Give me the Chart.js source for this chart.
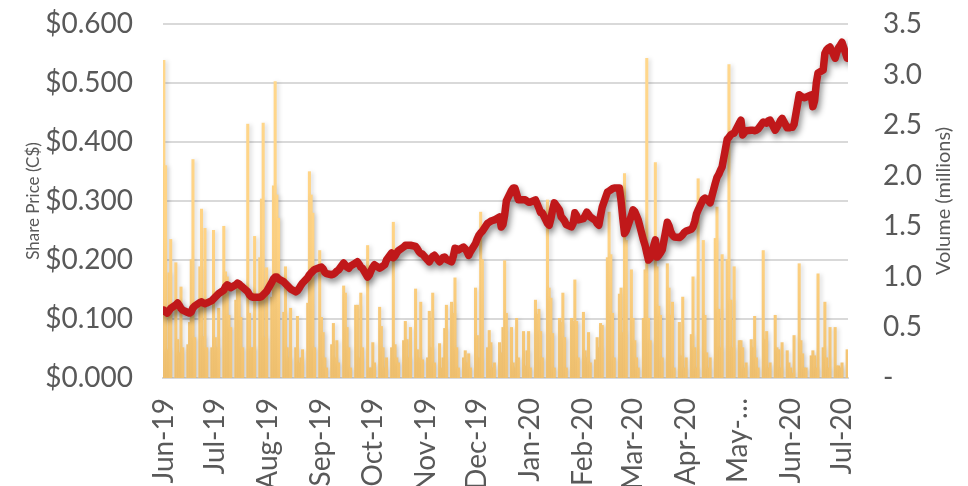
<!DOCTYPE html>
<html>
<head>
<meta charset="utf-8">
<script src="https://cdn.jsdelivr.net/npm/chart.js@4/dist/chart.umd.min.js"></script>
<style>
html,body{margin:0;padding:0;background:#fff;overflow:hidden}
#wrap{width:968px;height:486px;position:relative}
</style>
</head>
<body>
<div id="wrap"><canvas id="c"></canvas></div>
<script>
// ---- Data ----
const firstTradingDay = [2019, 5, 3];   // 3 Jun 2019 (month is 0-based)
const lastTradingDay  = [2020, 6, 6];   // 6 Jul 2020
const monthLabels = ['Jun-19','Jul-19','Aug-19','Sep-19','Oct-19','Nov-19','Dec-19',
                     'Jan-20','Feb-20','Mar-20','Apr-20','May-…','Jun-20','Jul-20'];
const priceTicks  = [0, 0.1, 0.2, 0.3, 0.4, 0.5, 0.6];
const volumeTicks = [0, 0.5, 1.0, 1.5, 2.0, 2.5, 3.0, 3.5];

// Share price (C$), one value per trading day
const sharePrice = [
  // Jun-19
  0.115,0.112,0.110,0.114,0.118,0.124,0.127,0.123,0.118,0.115,0.111,0.110,0.112,0.119,0.122,0.128,0.129,0.127,0.126,0.127,
  // Jul-19
  0.131,0.134,0.137,0.140,0.143,0.149,0.155,0.158,0.156,0.153,0.158,0.161,0.159,0.156,0.154,0.146,0.141,0.138,0.137,0.137,0.137,0.138,0.141,
  // Aug-19
  0.144,0.147,0.162,0.168,0.171,0.171,0.168,0.163,0.160,0.157,0.154,0.151,0.146,0.148,0.152,0.157,0.161,0.170,0.175,0.178,0.181,0.184,
  // Sep-19
  0.187,0.188,0.185,0.179,0.177,0.175,0.176,0.178,0.181,0.183,0.195,0.191,0.188,0.186,0.190,0.195,0.197,0.193,0.188,0.186,0.171,
  // Oct-19
  0.175,0.182,0.188,0.192,0.186,0.188,0.190,0.192,0.200,0.212,0.204,0.207,0.212,0.216,0.222,0.225,0.225,0.225,0.225,0.223,0.219,0.214,0.211,
  // Nov-19
  0.210,0.200,0.197,0.202,0.206,0.208,0.197,0.200,0.204,0.205,0.201,0.197,0.206,0.220,0.219,0.217,0.222,0.219,0.214,0.208,0.214,
  // Dec-19
  0.228,0.236,0.242,0.246,0.249,0.262,0.264,0.266,0.267,0.268,0.273,0.256,0.260,0.276,0.300,0.318,0.322,0.322,0.312,0.302,0.302,0.302,
  // Jan-20
  0.300,0.298,0.298,0.302,0.295,0.288,0.280,0.280,0.262,0.259,0.270,0.285,0.297,0.285,0.273,0.270,0.266,0.260,0.256,0.262,0.280,0.275,0.268,
  // Feb-20
  0.270,0.275,0.281,0.277,0.273,0.267,0.262,0.259,0.275,0.290,0.315,0.317,0.319,0.321,0.322,0.322,0.300,0.270,0.245,0.250,
  // Mar-20
  0.275,0.285,0.282,0.275,0.268,0.234,0.225,0.212,0.200,0.203,0.234,0.205,0.208,0.212,0.217,0.264,0.258,0.248,0.242,0.239,0.238,0.240,
  // Apr-20
  0.243,0.247,0.249,0.252,0.256,0.265,0.278,0.285,0.303,0.305,0.303,0.300,0.297,0.330,0.340,0.345,0.352,0.358,0.405,0.408,0.412,0.414,
  // May-20
  0.415,0.432,0.437,0.412,0.416,0.419,0.420,0.420,0.419,0.420,0.422,0.434,0.433,0.432,0.436,0.437,0.420,0.425,0.430,0.436,0.440,
  // Jun-20
  0.424,0.424,0.425,0.425,0.430,0.480,0.478,0.476,0.475,0.476,0.480,0.460,0.470,0.500,0.517,0.522,0.550,0.556,0.559,0.561,0.542,0.552,
  // Jul-20
  0.560,0.564,0.569,0.542
];

// Volume (millions of shares), one value per trading day
const volumeMillions = [
  // Jun-19
  3.14,2.10,0.28,1.04,1.37,1.14,0.38,0.25,0.90,0.30,0.33,0.55,1.17,2.16,0.40,1.10,1.67,0.41,1.48,0.30,
  // Jul-19
  0.30,1.46,0.40,0.30,0.69,1.50,1.05,1.00,0.62,0.50,0.77,0.94,0.94,0.60,0.30,2.51,0.64,0.30,0.30,1.40,1.19,1.77,2.52,
  // Aug-19
  0.40,1.09,0.80,1.90,2.93,1.81,1.58,0.65,1.10,0.30,0.20,0.69,0.30,0.61,0.15,0.20,0.28,0.74,2.04,1.81,1.63,0.30,
  // Sep-19
  1.26,0.60,0.45,0.20,0.10,0.33,0.54,0.20,0.37,0.15,0.91,0.84,0.50,0.30,0.10,0.72,0.72,0.20,0.84,0.30,1.31,
  // Oct-19
  0.10,0.10,0.35,0.15,0.70,0.51,0.30,0.10,0.20,0.30,1.54,0.33,0.20,0.15,0.37,0.56,0.38,0.20,0.50,0.88,0.28,0.20,0.75,
  // Nov-19
  0.18,0.20,0.66,0.30,0.84,0.15,0.34,0.10,0.20,0.49,0.72,0.75,0.64,0.99,0.30,0.10,0.20,0.27,0.15,0.24,0.10,
  // Dec-19
  0.89,0.42,0.20,1.64,1.17,0.30,0.47,0.35,0.10,0.15,0.35,0.25,0.50,1.16,0.64,0.50,0.15,0.10,0.59,0.20,0.46,0.12,
  // Jan-20
  0.27,0.46,0.10,0.77,0.63,0.68,0.46,0.20,1.76,0.89,0.79,0.44,0.10,0.59,0.55,0.84,0.40,0.10,0.59,0.56,0.97,0.56,0.20,
  // Feb-20
  0.65,0.27,0.20,0.45,0.15,0.18,0.40,0.30,0.54,0.52,1.19,1.64,1.22,0.64,0.20,0.83,0.89,0.45,2.02,1.36,
  // Mar-20
  1.07,0.59,0.37,0.20,0.10,0.59,1.07,3.16,0.59,0.37,2.13,1.10,0.71,0.62,0.20,1.13,0.89,0.62,0.75,0.10,0.55,0.22,
  // Apr-20
  0.80,0.10,0.20,0.43,1.00,0.30,0.10,1.97,1.36,0.62,0.25,0.10,0.20,1.38,1.69,0.68,0.30,1.22,1.17,3.10,0.77,0.30,
  // May-20
  1.10,0.37,0.37,0.30,0.10,0.15,0.38,0.30,0.61,0.20,0.10,1.26,0.38,0.46,0.10,0.15,0.62,0.30,0.28,0.10,0.35,
  // Jun-20
  0.27,0.15,0.10,0.05,0.42,1.13,0.37,0.24,0.10,0.10,0.22,0.27,0.22,0.10,1.03,0.30,0.75,0.20,0.10,0.50,0.50,0.12,
  // Jul-20
  0.12,0.10,0.15,0.28
];

// ---- Date axis helpers (days since first trading day) ----
const DAY = 86400000;
const t0 = Date.UTC(...firstTradingDay);
const t1 = Date.UTC(...lastTradingDay);
const tradingDayIndex = [];
for (let t = t0; t <= t1; t += DAY) {
  const wd = new Date(t).getUTCDay();
  if (wd !== 0 && wd !== 6) tradingDayIndex.push(Math.round((t - t0) / DAY));
}
// Excel date axis: labels every month, counted from the first date (the 3rd)
const monthTickValues = monthLabels.map((_, i) =>
  Math.round((Date.UTC(firstTradingDay[0], firstTradingDay[1] + i, firstTradingDay[2]) - t0) / DAY));
const lastIndex = Math.round((t1 - t0) / DAY);

const priceData  = sharePrice.map((v, i) => ({ x: tradingDayIndex[i], y: v }));
const volumeData = volumeMillions.map((v, i) => ({ x: tradingDayIndex[i], y: v }));

// ---- Styling ----
const FONT = 'Lato, "Open Sans", "DejaVu Sans", sans-serif';
const GREY = '#595959';
const GRID = '#d9d9d9';

const shadowPlugin = {
  id: 'dsShadow',
  beforeDatasetDraw(chart, args) {
    const ctx = chart.ctx;
    ctx.save();
    const s = chart.data.datasets[args.index].shadow;
    if (s) {
      ctx.shadowColor = s.color;
      ctx.shadowBlur = s.blur;
      ctx.shadowOffsetX = s.x;
      ctx.shadowOffsetY = s.y;
    }
  },
  afterDatasetDraw(chart) { chart.ctx.restore(); }
};

const rightTitlePlugin = {
  id: 'rightTitle',
  afterDraw(chart) {
    const sc = chart.scales.y1;
    const ctx = chart.ctx;
    ctx.save();
    ctx.translate(sc.right - 24, (sc.top + sc.bottom) / 2);
    ctx.rotate(-Math.PI / 2);
    ctx.font = '20px ' + FONT;
    ctx.fillStyle = GREY;
    ctx.textAlign = 'center';
    ctx.textBaseline = 'middle';
    ctx.fillText('Volume (millions)', 0, 0);
    ctx.restore();
  }
};

let barGradient = null;
function barColor(c) {
  const a = c.chart.chartArea;
  if (!a) return '#FFD385';
  if (!barGradient) {
    barGradient = c.chart.ctx.createLinearGradient(0, a.top, 0, a.bottom);
    barGradient.addColorStop(0, '#FFD88E');
    barGradient.addColorStop(0.6, '#FFD384');
    barGradient.addColorStop(1, '#F2C270');
  }
  return barGradient;
}

function fixVertical(width) {
  return s => { s.width = width; s.paddingTop = 0; s.paddingBottom = 0; };
}

new Chart(document.getElementById('c'), {
  type: 'bar',
  data: {
    datasets: [
      {
        type: 'line',
        label: 'Share Price (C$)',
        data: priceData,
        yAxisID: 'y',
        borderColor: '#C0181A',
        borderWidth: 7.5,
        borderJoinStyle: 'round',
        borderCapStyle: 'round',
        pointRadius: 0,
        tension: 0,
        order: 0,
        shadow: { color: 'rgba(0,0,0,0.45)', blur: 6, x: 2, y: 4 }
      },
      {
        type: 'bar',
        label: 'Volume (millions)',
        data: volumeData,
        yAxisID: 'y1',
        backgroundColor: barColor,
        borderWidth: 0,
        barThickness: 2.4,
        order: 1,
        shadow: { color: 'rgba(0,0,0,0.16)', blur: 4, x: 2, y: 1 }
      }
    ]
  },
  options: {
    responsive: true,
    maintainAspectRatio: false,
    animation: false,
    layout: { padding: { top: 24, left: 0, right: 0, bottom: 0 } },
    plugins: { legend: { display: false }, tooltip: { enabled: false } },
    scales: {
      x: {
        type: 'linear',
        min: -0.5,
        max: lastIndex + 0.5,
        offset: false,
        grid: { display: false, drawTicks: false, offset: false },
        border: { display: true, color: GRID, width: 2 },
        ticks: {
          autoSkip: false,
          minRotation: 90,
          maxRotation: 90,
          padding: 20,
          color: GREY,
          font: { family: FONT, size: 28 },
          callback: (v, i) => monthLabels[i]
        },
        afterBuildTicks: s => { s.ticks = monthTickValues.map(v => ({ value: v })); },
        afterFit: s => { s.height = 108; s.paddingLeft = 0; s.paddingRight = 0; }
      },
      y: {
        position: 'left',
        min: priceTicks[0],
        max: priceTicks[priceTicks.length - 1],
        grid: { color: GRID, lineWidth: 2, drawTicks: false },
        border: { display: false },
        ticks: {
          stepSize: 0.1,
          padding: 30,
          color: GREY,
          font: { family: FONT, size: 28 },
          callback: v => '$' + Number(v).toFixed(3)
        },
        afterBuildTicks: s => { s.ticks = priceTicks.map(v => ({ value: v })); },
        title: {
          display: true,
          text: 'Share Price (C$)',
          color: GREY,
          font: { family: FONT, size: 17 },
          padding: { top: 23, bottom: 0 }
        },
        afterFit: fixVertical(163)
      },
      y1: {
        position: 'right',
        min: volumeTicks[0],
        max: volumeTicks[volumeTicks.length - 1],
        grid: { display: false, drawTicks: false },
        border: { display: false },
        ticks: {
          stepSize: 0.5,
          padding: 35,
          color: GREY,
          font: { family: FONT, size: 28 },
          callback: v => (v === 0 ? '-' : Number(v).toFixed(1))
        },
        afterBuildTicks: s => { s.ticks = volumeTicks.map(v => ({ value: v })); },
        afterFit: fixVertical(120)
      }
    }
  },
  plugins: [shadowPlugin, rightTitlePlugin]
});
</script>
</body>
</html>
